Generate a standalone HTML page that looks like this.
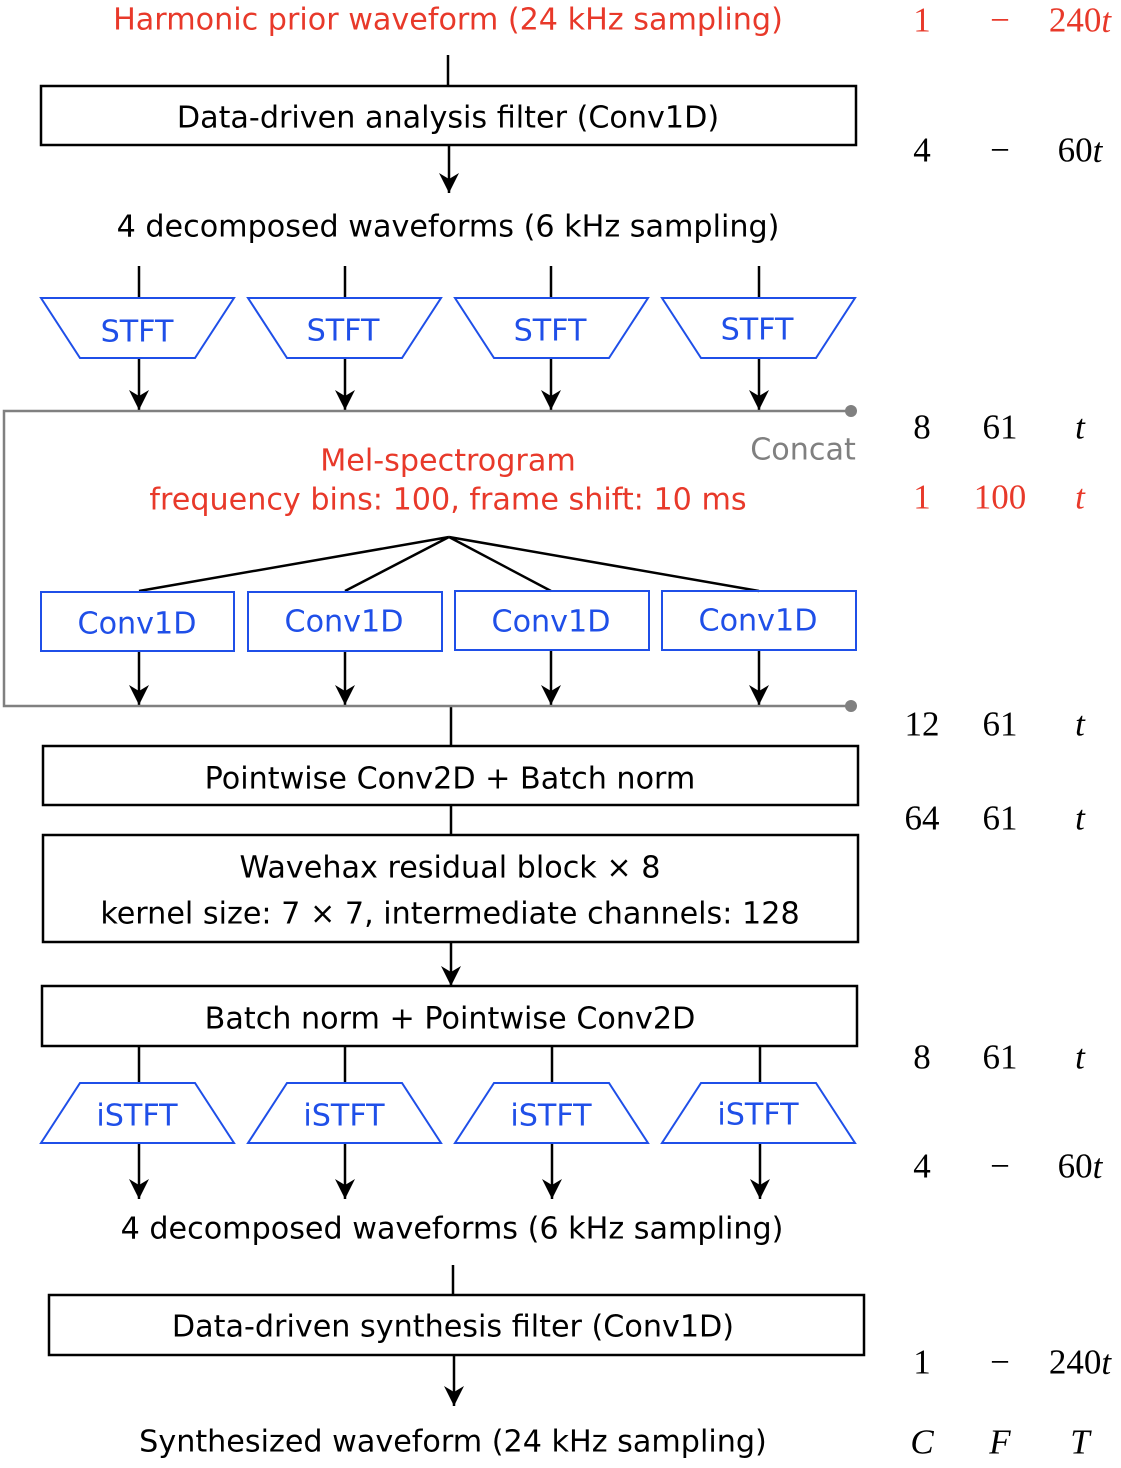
<!DOCTYPE html>
<html><head><meta charset="utf-8"><style>
html,body{margin:0;padding:0;background:#fff}
svg{display:block}
.s{font-family:"DejaVu Sans","Liberation Sans",sans-serif;font-size:30.2px;text-anchor:middle;dominant-baseline:central}
.n{font-family:"Liberation Serif",serif;font-size:35px;text-anchor:middle;dominant-baseline:central}
.r{fill:#e8392a}.b{fill:#1f4fe8}.g{fill:#808080}
</style></head><body>
<svg width="1121" height="1468" viewBox="0 0 1121 1468" xmlns="http://www.w3.org/2000/svg">
<defs><marker id="a" markerWidth="22" markerHeight="22" refX="20" refY="11" orient="auto" markerUnits="userSpaceOnUse"><path d="M0,1 L20,11 L0,21 L6,11 Z" fill="#000"/></marker></defs>
<g stroke="#000" stroke-width="2.5" fill="none">
<line x1="448" y1="55" x2="448" y2="86"/>
<rect x="41" y="86" width="815" height="59"/>
<line x1="449" y1="145" x2="449" y2="193" marker-end="url(#a)"/>
<line x1="139" y1="266" x2="139" y2="298"/><line x1="345" y1="266" x2="345" y2="298"/><line x1="551" y1="266" x2="551" y2="298"/><line x1="759" y1="266" x2="759" y2="298"/>
<line x1="139" y1="358" x2="139" y2="410" marker-end="url(#a)"/><line x1="345" y1="358" x2="345" y2="410" marker-end="url(#a)"/><line x1="551" y1="358" x2="551" y2="410" marker-end="url(#a)"/><line x1="759" y1="358" x2="759" y2="410" marker-end="url(#a)"/>
<path d="M449,537 L139,591 M449,537 L345,591 M449,537 L551,591 M449,537 L759,591"/>
<line x1="139" y1="651" x2="139" y2="705" marker-end="url(#a)"/><line x1="345" y1="651" x2="345" y2="705" marker-end="url(#a)"/><line x1="551" y1="651" x2="551" y2="705" marker-end="url(#a)"/><line x1="759" y1="651" x2="759" y2="705" marker-end="url(#a)"/>
<line x1="451" y1="706" x2="451" y2="746"/>
<rect x="43" y="746" width="815" height="59"/>
<line x1="451" y1="805" x2="451" y2="835"/>
<rect x="43" y="835" width="815" height="107"/>
<line x1="451" y1="942" x2="451" y2="986" marker-end="url(#a)"/>
<rect x="42" y="986" width="815" height="60"/>
<line x1="139" y1="1046" x2="139" y2="1082"/><line x1="345" y1="1046" x2="345" y2="1082"/><line x1="552" y1="1046" x2="552" y2="1082"/><line x1="760" y1="1046" x2="760" y2="1082"/>
<line x1="139" y1="1142" x2="139" y2="1199" marker-end="url(#a)"/><line x1="345" y1="1142" x2="345" y2="1199" marker-end="url(#a)"/><line x1="552" y1="1142" x2="552" y2="1199" marker-end="url(#a)"/><line x1="760" y1="1142" x2="760" y2="1199" marker-end="url(#a)"/>
<line x1="453" y1="1265" x2="453" y2="1295"/>
<rect x="49" y="1295" width="815" height="60"/>
<line x1="454" y1="1355" x2="454" y2="1406" marker-end="url(#a)"/>
</g>
<g stroke="#808080" stroke-width="2.5" fill="none">
<path d="M851,411 L4,411 L4,706 L851,706"/>
</g>
<circle cx="851" cy="411" r="6" fill="#808080"/><circle cx="851" cy="706" r="6" fill="#808080"/>
<g stroke="#1f4fe8" stroke-width="2" fill="none">
<path d="M41,298 L234,298 L195,358 L80,358 Z"/><path d="M248,298 L441,298 L402,358 L287,358 Z"/><path d="M455,298 L648,298 L609,358 L494,358 Z"/><path d="M662,298 L855,298 L816,358 L701,358 Z"/>
<rect x="41" y="592" width="193" height="59"/><rect x="248" y="592" width="194" height="59"/><rect x="455" y="591" width="194" height="59"/><rect x="662" y="591" width="194" height="59"/>
<path d="M80,1083 L195,1083 L234,1143 L41,1143 Z"/><path d="M287,1083 L402,1083 L441,1143 L248,1143 Z"/><path d="M494,1083 L609,1083 L648,1143 L455,1143 Z"/><path d="M701,1083 L816,1083 L855,1143 L662,1143 Z"/>
</g>
<text class="s r" x="448" y="20">Harmonic prior waveform (24 kHz sampling)</text>
<text class="s" x="448" y="118">Data-driven analysis filter (Conv1D)</text>
<text class="s" x="448" y="227">4 decomposed waveforms (6 kHz sampling)</text>
<text class="s b" x="137" y="332">STFT</text><text class="s b" x="343" y="331">STFT</text><text class="s b" x="550" y="331">STFT</text><text class="s b" x="757" y="330">STFT</text>
<text class="s g" x="803" y="450">Concat</text>
<text class="s r" x="448" y="461">Mel-spectrogram</text>
<text class="s r" x="448" y="500">frequency bins: 100, frame shift: 10 ms</text>
<text class="s b" x="137" y="624">Conv1D</text><text class="s b" x="344" y="622">Conv1D</text><text class="s b" x="551" y="622">Conv1D</text><text class="s b" x="758" y="621">Conv1D</text>
<text class="s" x="450" y="779">Pointwise Conv2D + Batch norm</text>
<text class="s" x="450" y="868">Wavehax residual block × 8</text>
<text class="s" x="450" y="914">kernel size: 7 × 7, intermediate channels: 128</text>
<text class="s" x="450" y="1019">Batch norm + Pointwise Conv2D</text>
<text class="s b" x="137" y="1116">iSTFT</text><text class="s b" x="344" y="1116">iSTFT</text><text class="s b" x="551" y="1116">iSTFT</text><text class="s b" x="758" y="1115">iSTFT</text>
<text class="s" x="452" y="1229">4 decomposed waveforms (6 kHz sampling)</text>
<text class="s" x="453" y="1327">Data-driven synthesis filter (Conv1D)</text>
<text class="s" x="453" y="1442">Synthesized waveform (24 kHz sampling)</text>
<g>
<text class="n r" x="922" y="20">1</text><text class="n r" x="1000" y="20">−</text><text class="n r" x="1080" y="20">240<tspan font-style="italic">t</tspan></text>
<text class="n" x="922" y="150">4</text><text class="n" x="1000" y="150">−</text><text class="n" x="1080" y="150">60<tspan font-style="italic">t</tspan></text>
<text class="n" x="922" y="427">8</text><text class="n" x="1000" y="427">61</text><text class="n" x="1080" y="427" font-style="italic">t</text>
<text class="n r" x="922" y="497">1</text><text class="n r" x="1000" y="497">100</text><text class="n r" x="1080" y="497" font-style="italic">t</text>
<text class="n" x="922" y="724">12</text><text class="n" x="1000" y="724">61</text><text class="n" x="1080" y="724" font-style="italic">t</text>
<text class="n" x="922" y="818">64</text><text class="n" x="1000" y="818">61</text><text class="n" x="1080" y="818" font-style="italic">t</text>
<text class="n" x="922" y="1057">8</text><text class="n" x="1000" y="1057">61</text><text class="n" x="1080" y="1057" font-style="italic">t</text>
<text class="n" x="922" y="1166">4</text><text class="n" x="1000" y="1166">−</text><text class="n" x="1080" y="1166">60<tspan font-style="italic">t</tspan></text>
<text class="n" x="922" y="1362">1</text><text class="n" x="1000" y="1362">−</text><text class="n" x="1080" y="1362">240<tspan font-style="italic">t</tspan></text>
<text class="n" x="922" y="1442" font-style="italic">C</text><text class="n" x="1000" y="1442" font-style="italic">F</text><text class="n" x="1080" y="1442" font-style="italic">T</text>
</g>
</svg>
</body></html>
